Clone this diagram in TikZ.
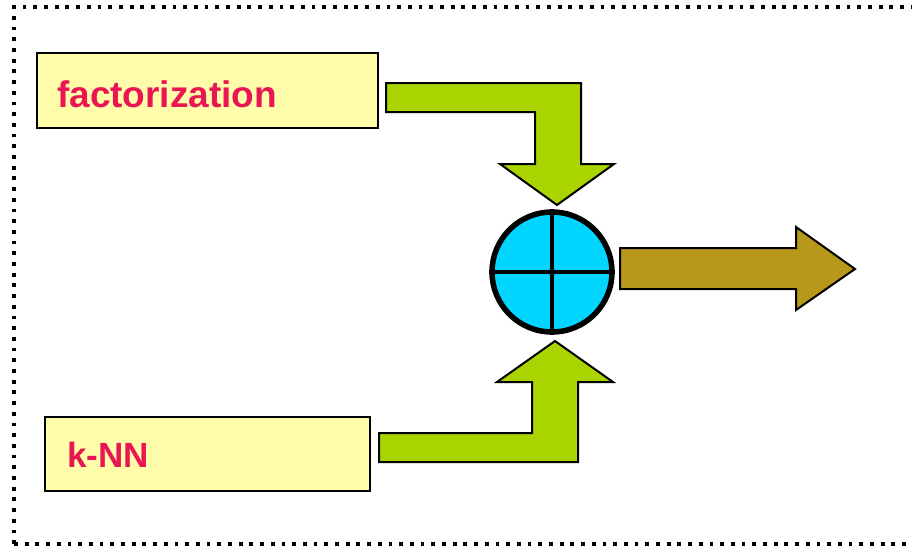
\documentclass[tikz,border=0pt]{standalone}
\usepackage{xcolor}
\usepackage{fontspec}
\setmainfont{Liberation Sans}

\definecolor{boxyellow}{RGB}{255,252,170}
\definecolor{labelred}{RGB}{234,22,84}
\definecolor{arrowgreen}{RGB}{170,212,0}
\definecolor{sumcyan}{RGB}{0,212,255}
\definecolor{outbrown}{RGB}{184,152,26}

\begin{document}
\begin{tikzpicture}[
        x=1pt, y=-1pt,
        inbox/.style={draw=black, line width=2pt, fill=boxyellow, inner sep=0pt},
        boxtext/.style={font=\fontsize{37}{40}\selectfont\bfseries, text=labelred, inner sep=0pt},
        blockarrow/.style={draw=black, line width=2pt, line join=miter},
    ]
    \useasboundingbox (0,0) rectangle (912,546);
    \clip (0,0) rectangle (912,546);

    % dotted frame
    \draw[line width=3.8pt, dash pattern=on 3.8pt off 6.9pt] (14,544) -- (14,7) -- (930,7);
    \draw[line width=3.8pt, dash pattern=on 3.8pt off 6.9pt] (14,544) -- (930,544);

    % input boxes
    \node[inbox, minimum width=341pt, minimum height=75pt] (fact) at (207.5,90.5) {};
    \node[boxtext, anchor=base west] (facttext) at (57,107) {factorization};

    \node[inbox, minimum width=325pt, minimum height=74pt] (knn) at (207.5,454) {};
    \node[boxtext, anchor=base west, font=\fontsize{35}{40}\selectfont\bfseries] (knntext) at (67,467) {k-NN};

    % summing junction
    \node[circle, draw=black, line width=5.5pt, fill=sumcyan, minimum size=120pt, inner sep=0pt] (sum) at (552,272) {};
    \draw[line width=4pt] (sum.north) -- (sum.south);
    \draw[line width=4pt] (sum.west) -- (sum.east);

    % bent arrow from factorization
    \draw[blockarrow, fill=arrowgreen] (386,83) -- (581,83) -- (581,164) -- (614,164)
        -- (557,205) -- (500,164) -- (535,164) -- (535,112) -- (386,112) -- cycle;

    % bent arrow from k-NN
    \draw[blockarrow, fill=arrowgreen] (379,433) -- (532,433) -- (532,382) -- (497,382)
        -- (555,341) -- (613,382) -- (578,382) -- (578,462) -- (379,462) -- cycle;

    % output arrow
    \draw[blockarrow, fill=outbrown] (620,248) -- (796,248) -- (796,227) -- (855,269)
        -- (796,310) -- (796,289) -- (620,289) -- cycle;
\end{tikzpicture}
\end{document}
